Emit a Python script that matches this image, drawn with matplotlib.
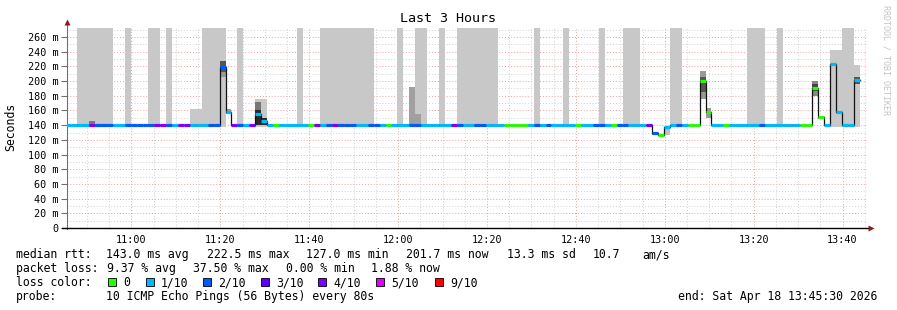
import numpy as np
import matplotlib
matplotlib.use("Agg")
import matplotlib.pyplot as plt

plt.rcParams['font.family'] = ['DejaVu Sans Mono']

# 80 s steps, x in minutes since 10:45:30
STEP_MIN = 80 / 60.0

# median rtt (ms) as runs of (count, value)
median_runs = [(26, 140), (1, 219.6), (1, 158), (4, 140), (1, 155), (1, 146),
               (65, 140), (1, 129.7), (1, 127), (1, 138), (5, 140), (1, 200.5),
               (1, 158), (17, 140), (1, 191), (1, 150.7), (1, 140), (1, 222.8),
               (1, 157.5), (2, 140), (1, 201.5)]

# loss level per step as runs of (count, level index)
loss_runs = [(4, 1), (1, 4), (3, 2), (2, 1), (5, 2), (2, 4), (1, 2), (1, 1), (2, 4),
             (3, 1), (3, 2), (1, 1), (1, 4), (1, 2), (1, 1), (1, 4), (3, 1), (1, 0),
             (5, 1), (1, 0), (1, 4), (1, 1), (1, 2), (1, 4), (3, 2), (2, 1), (2, 2),
             (1, 1), (1, 0), (3, 1), (2, 2), (5, 1), (1, 4), (1, 2), (2, 1), (2, 2),
             (3, 1), (4, 0), (1, 1), (1, 2), (1, 1), (1, 2), (4, 1), (1, 0), (2, 1),
             (2, 2), (1, 1), (1, 0), (2, 2), (3, 1), (1, 4), (1, 2), (1, 0), (2, 1),
             (1, 2), (1, 1), (4, 0), (2, 1), (1, 0), (5, 1), (1, 2), (6, 1), (4, 0),
             (6, 1)]

# max rtt (ms) runs, 0 = no smoke, 300 = off the top
max_runs = [(2, 0), (6, 300), (2, 0), (1, 300), (3, 0), (2, 300), (1, 0), (1, 300),
            (3, 0), (2, 162), (4, 300), (2, 0), (1, 300), (2, 0), (2, 175), (5, 0),
            (1, 300), (3, 0), (9, 300), (4, 0), (1, 300), (2, 0), (2, 300), (2, 0),
            (1, 300), (2, 0), (7, 300), (6, 0), (1, 300), (4, 0), (1, 300), (5, 0),
            (1, 300), (3, 0), (3, 300), (5, 0), (2, 300), (11, 0), (3, 300), (2, 0),
            (1, 300), (8, 0), (2, 242), (2, 300), (1, 222)]

# darker smoke around the median: step, low, high, shade
smoke_step = [4, 26, 26, 27, 32, 32, 33, 58, 59, 99, 100, 101, 107, 107, 108, 126, 126, 127, 133]
smoke_lo = [140, 205, 212, 155, 160, 140, 140, 140, 140, 126, 125, 127, 175, 185, 150, 180, 186, 148, 196]
smoke_hi = [145, 212, 228, 162, 172, 160, 150, 192, 155, 131, 128, 138, 214, 205, 164, 200, 196, 153, 206]
smoke_shade = ['#777777', '#999999', '#555555', '#999999', '#777777', '#2a2a2a', '#2a2a2a',
               '#a0a0a0', '#a0a0a0', '#777777', '#777777', '#c0c0c0', '#999999', '#555555',
               '#999999', '#888888', '#444444', '#999999', '#555555']

loss_colors = ['#26ff00', '#00b8ff', '#0059ff', '#5e00ff', '#7e00ff', '#dd00ff', '#ff0000']
loss_labels = ['0', '1/10', '2/10', '3/10', '4/10', '5/10', '9/10']

y_ticks = list(range(0, 261, 20))
x_tick_min = [14.5, 34.5, 54.5, 74.5, 94.5, 114.5, 134.5, 154.5, 174.5]
x_tick_labels = ['11:00', '11:20', '11:40', '12:00', '12:20', '12:40', '13:00', '13:20', '13:40']


def expand(runs):
    out = []
    for n, v in runs:
        out += [v] * n
    return np.array(out, dtype=float)


median = expand(median_runs)
loss = expand(loss_runs).astype(int)
mx = expand(max_runs)
n = len(median)
x0 = (np.arange(n) - 0.25) * STEP_MIN
x1 = x0 + STEP_MIN

W, H = 897, 310
fig = plt.figure(figsize=(W / 100, H / 100), dpi=100)
ax = fig.add_axes([67 / W, 82 / H, 800 / W, 200 / H])
ax.set_xlim(0, 180)
ax.set_ylim(0, 272.3)

# grid
for v in range(10, 272, 10):
    major = v % 20 == 0
    ax.axhline(v, color='#eaa0a0' if major else '#d0d0d0', lw=0.7,
               ls=(0, (1, 2)), zorder=0)
for m in np.arange(4.5, 180, 5):
    major = abs(((m - 14.5) / 20) - round((m - 14.5) / 20)) < 1e-6
    ax.axvline(m, color='#eaa0a0' if major else '#d0d0d0', lw=0.7,
               ls=(0, (1, 2)), zorder=0)

# light smoke bars
for i in range(n):
    if mx[i] > 0:
        ax.fill_between([x0[i], x1[i]], 138, mx[i], color='#c8c8c8', lw=0, zorder=1)

for s, lo, hi, c in zip(smoke_step, smoke_lo, smoke_hi, smoke_shade):
    ax.fill_between([x0[s], x1[s]], lo, hi, color=c, lw=0, zorder=2)

# median: thin black connectors + coloured loss segments
xs = np.append(x0, x1[-1])
ys = np.append(median, median[-1])
ax.step(xs, ys, where='post', color='#111111', lw=0.9, zorder=3)
ax.hlines(median, x0, x1, colors=[loss_colors[l] for l in loss], lw=2.3,
          zorder=4, capstyle='butt')

# axes
for sp in ax.spines.values():
    sp.set_visible(False)
ax.plot([0, 0], [-0.005, 1.02], transform=ax.transAxes, color='#707070',
        lw=0.8, clip_on=False)
ax.plot([-0.006, 1.004], [0, 0], transform=ax.transAxes, color='black',
        lw=1.0, clip_on=False)
ax.plot([0], [1.03], marker='^', ms=4, color='#8b1a1a', transform=ax.transAxes,
        clip_on=False, mec='none')
ax.plot([1.005], [0], marker='>', ms=4, color='#8b1a1a', transform=ax.transAxes,
        clip_on=False, mec='none')

ax.set_yticks(y_ticks)
ax.set_yticklabels(['0' if v == 0 else '%d m' % v for v in y_ticks])
ax.set_xticks(x_tick_min)
ax.set_xticklabels(x_tick_labels)
ax.tick_params(axis='y', length=4, width=0.8, color='#707070', pad=2, labelsize=7.3)
ax.tick_params(axis='x', length=0, pad=5, labelsize=7.3)

fig.text(448 / W, 1 - 19 / H, 'Last 3 Hours', ha='center', va='center', fontsize=9.6)
fig.text(11 / W, 1 - 127 / H, 'Seconds', rotation=90, ha='center', va='center', fontsize=8.3)
fig.text(886 / W, 1 - 5 / H, 'RRDTOOL / TOBI OETIKER', rotation=270, ha='center',
         va='top', fontsize=6, color='#c4c4c4')

fs = 8.3


def put(xp, yp, s):
    # yp is the row centre in pixels; place on a common baseline
    fig.text(xp / W, 1 - (yp + 4.2) / H, s, ha='left', va='baseline', fontsize=fs)


put(16, 254, 'median rtt:')
put(106, 254, '143.0 ms avg')
put(207, 254, '222.5 ms max')
put(306, 254, '127.0 ms min')
put(406, 254, '201.7 ms now')
put(507, 254, '13.3 ms sd')
put(593, 254, '10.7')
put(642, 254, 'am/s')

put(16, 268, 'packet loss:')
put(107, 268, '9.37 % avg')
put(193, 268, '37.50 % max')
put(286, 268, '0.00 % min')
put(371, 268, '1.88 % now')

put(16, 282, 'loss color:')
box_x = [108, 146, 203, 261, 318, 376, 435]
for bx, c, lab in zip(box_x, loss_colors, loss_labels):
    fig.patches.append(plt.Rectangle((bx / W, 1 - 286 / H), 8 / W, 8 / H,
                                     transform=fig.transFigure, facecolor=c,
                                     edgecolor='black', lw=0.6))
    put(bx + 15, 282, lab)

put(16, 296, 'probe:')
put(106, 296, '10 ICMP Echo Pings (56 Bytes) every 80s')
put(678, 296, 'end: Sat Apr 18 13:45:30 2026')

fig.savefig('out.png', dpi=100, facecolor='white')
